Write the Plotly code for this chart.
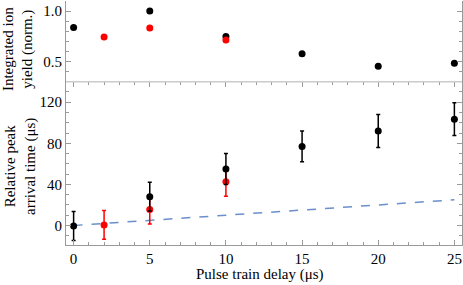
import plotly.graph_objects as go

# Top panel: integrated ion yield
top_black_x = [0, 5, 10, 15, 20, 25]
top_black_y = [0.836, 1.0, 0.748, 0.578, 0.454, 0.483]
top_red_x = [2, 5, 10]
top_red_y = [0.742, 0.833, 0.713]

# Bottom panel: relative peak arrival time
bot_black_x = [0, 5, 10, 15, 20, 25]
bot_black_y = [-0.5, 28, 55, 77, 92, 103.5]
bot_black_err = [14, 14, 15, 15, 16, 16]
bot_red_x = [2, 5, 10]
bot_red_y = [0.5, 15.5, 42.5]
bot_red_err = [14, 14, 14]

# Reference dashed line (slope 1)
ref_x = [0, 25]
ref_y = [0, 25]

x_ticks = [0, 5, 10, 15, 20, 25]
top_ticks = [0.5, 1.0]
top_ticktext = ["0.5", "1.0"]
bot_ticks = [0, 40, 80, 120]

font_family = "Liberation Serif"
frame = "#9a9a9a"

fig = go.Figure()
fig.add_trace(go.Scatter(x=top_black_x, y=top_black_y, mode="markers",
                         marker=dict(color="black", size=7), xaxis="x", yaxis="y2"))
fig.add_trace(go.Scatter(x=top_red_x, y=top_red_y, mode="markers",
                         marker=dict(color="red", size=7), xaxis="x", yaxis="y2"))
fig.add_trace(go.Scatter(x=ref_x, y=ref_y, mode="lines",
                         line=dict(color="#6a8fcc", width=1.5, dash="dash"), xaxis="x", yaxis="y"))
fig.add_trace(go.Scatter(x=bot_red_x, y=bot_red_y, mode="markers",
                         marker=dict(color="red", size=7),
                         error_y=dict(type="data", array=bot_red_err, color="red", thickness=1.5, width=2),
                         xaxis="x", yaxis="y"))
fig.add_trace(go.Scatter(x=bot_black_x, y=bot_black_y, mode="markers",
                         marker=dict(color="black", size=7),
                         error_y=dict(type="data", array=bot_black_err, color="black", thickness=1.5, width=2),
                         xaxis="x", yaxis="y"))

split = 164 / 245

common = dict(showline=True, linecolor=frame, linewidth=1, mirror="ticks", ticks="inside",
              tickcolor=frame, ticklen=5, showgrid=False, zeroline=False, automargin=False,
              tickfont=dict(family=font_family, size=15, color="black"))

minor_x = dict(dtick=1, ticks="inside", ticklen=3, tickcolor=frame, showgrid=False)

fig.update_layout(
    width=463, height=285,
    margin=dict(l=66, r=1, t=1, b=40),
    paper_bgcolor="white", plot_bgcolor="white",
    showlegend=False,
    font=dict(family=font_family, color="black"),
    xaxis=dict(range=[-0.5, 25.5], tickvals=x_ticks, minor=minor_x, anchor="y", **common),
    xaxis2=dict(range=[-0.5, 25.5], tickvals=x_ticks, showticklabels=False, minor=minor_x,
                anchor="y2", overlaying="x", **common),
    yaxis=dict(domain=[0, split], range=[-19, 140], tickvals=bot_ticks,
               minor=dict(dtick=10, ticks="inside", ticklen=3, tickcolor=frame, showgrid=False),
               anchor="x", **common),
    yaxis2=dict(domain=[split, 1], range=[0.30, 1.10], tickvals=top_ticks, ticktext=top_ticktext,
                minor=dict(dtick=0.1, ticks="inside", ticklen=3, tickcolor=frame, showgrid=False),
                anchor="x", **common),
)
fig.add_shape(type="line", xref="paper", yref="paper", x0=0, x1=1, y0=split, y1=split,
              line=dict(color="#cccccc", width=1.5))

title_font = dict(family=font_family, size=15, color="black")
fig.add_annotation(text="Integrated ion<br>yield (norm.)", xref="paper", yref="paper",
                   x=-0.12, y=0.805, xanchor="center", yanchor="middle",
                   textangle=-90, showarrow=False, font=title_font)
fig.add_annotation(text="Relative peak<br>arrival time (μs)", xref="paper", yref="paper",
                   x=-0.115, y=0.322, xanchor="center", yanchor="middle",
                   textangle=-90, showarrow=False, font=title_font)
fig.add_annotation(text="Pulse train delay (μs)", xref="paper", yref="paper",
                   x=0.49, y=-0.12, xanchor="center", yanchor="middle",
                   showarrow=False, font=title_font)

fig.write_html("out.html", config={"displayModeBar": False},
               post_script="document.body.style.margin='0';document.body.style.overflow='hidden';")
